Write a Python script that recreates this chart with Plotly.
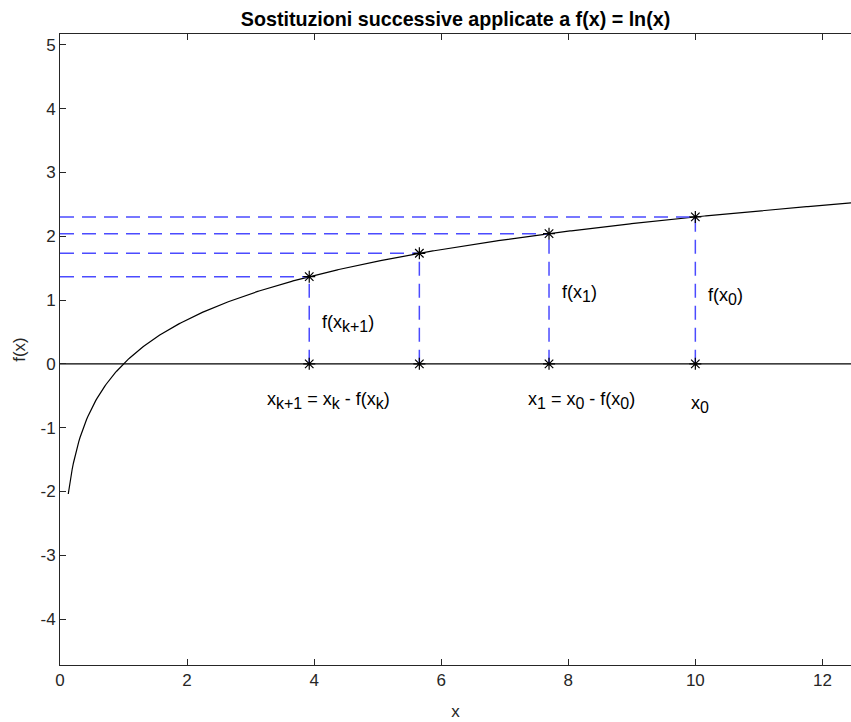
import numpy as np
import plotly.graph_objects as go

# Successive-substitution iterates x0, x1, x2, x3 and their function values
x_iter = [10.0, 7.697, 5.656, 3.923]
f_iter = [2.303, 2.041, 1.733, 1.367]

# Domain of the plotted curve f(x) = ln(x)
x_start, x_end = 0.13, 12.45
x_curve = np.linspace(x_start, x_end, 600)
y_curve = np.log(x_curve)

x_ticks = [0, 2, 4, 6, 8, 10, 12]
y_ticks = [-4, -3, -2, -1, 0, 1, 2, 3, 4, 5]

AX = "#262626"
BLUE = "rgb(75,75,255)"
FONT = "Liberation Sans, Arial, sans-serif"


def sub(s):
    # subscript kept close to full size
    return '<sub><span style="font-size:16px">' + s + '</span></sub>'


fig = go.Figure()

# the function curve
fig.add_trace(go.Scatter(x=x_curve, y=y_curve, mode="lines",
                         line=dict(color="black", width=1.2), hoverinfo="skip"))

# the x axis line y = 0
fig.add_trace(go.Scatter(x=[0, x_end], y=[0, 0], mode="lines",
                         line=dict(color="black", width=1.2), hoverinfo="skip"))

# dashed construction lines
for xi, fi in zip(x_iter, f_iter):
    fig.add_trace(go.Scatter(x=[0, xi], y=[fi, fi], mode="lines",
                             line=dict(color=BLUE, width=1.5, dash="14px,8px")))
    fig.add_trace(go.Scatter(x=[xi, xi], y=[0, fi], mode="lines",
                             line=dict(color=BLUE, width=1.5, dash="14px,8px")))

# asterisk markers on the curve and on the axis
fig.add_trace(go.Scatter(x=x_iter + x_iter, y=f_iter + [0] * len(x_iter), mode="markers",
                         marker=dict(symbol="asterisk-open", size=10, color="black",
                                     line=dict(color="black", width=1.2))))

labels = [
    (x_iter[0] + 0.17, 1.05, "f(x" + sub("0") + ")"),
    (x_iter[1] + 0.17, 1.11, "f(x" + sub("1") + ")"),
    (x_iter[3] + 0.17, 0.64, "f(x" + sub("k+1") + ")"),
    (3.22, -0.57, "x" + sub("k+1") + " = x" + sub("k") + " - f(x" + sub("k") + ")"),
    (7.33, -0.57, "x" + sub("1") + " = x" + sub("0") + " - f(x" + sub("0") + ")"),
    (9.9, -0.64, "x" + sub("0")),
]
for lx, ly, txt in labels:
    fig.add_annotation(x=lx, y=ly, text=txt, showarrow=False, xanchor="left",
                       yanchor="middle", font=dict(family=FONT, size=18, color="black"))

fig.update_layout(
    width=851, height=722,
    margin=dict(l=60, r=0, t=34, b=57),
    paper_bgcolor="white", plot_bgcolor="white",
    showlegend=False,
    font=dict(family=FONT, size=16, color=AX),
    title=dict(text="<b>Sostituzioni successive applicate a f(x) = ln(x)</b>",
               x=0.5, xanchor="center", xref="paper", y=0.974, yanchor="middle",
               font=dict(family=FONT, size=19.7, color="black")),
    xaxis=dict(range=[0, x_end], tickvals=x_ticks, ticktext=[str(t) for t in x_ticks],
               showgrid=False, zeroline=False, showline=True, linecolor=AX, linewidth=1,
               mirror="ticks", ticks="inside", ticklen=6, tickcolor=AX,
               tickfont=dict(size=17, color=AX),
               title=dict(text="x", font=dict(size=17, color=AX), standoff=15)),
    yaxis=dict(range=[-4.72, 5.17], tickvals=y_ticks, ticktext=[str(t) for t in y_ticks],
               showgrid=False, zeroline=False, showline=True, linecolor=AX, linewidth=1,
               ticks="inside", ticklen=6, tickcolor=AX,
               tickfont=dict(size=17, color=AX),
               title=dict(text="f(x)", font=dict(size=17, color=AX), standoff=10)),
)

fig.write_html("out.html")
